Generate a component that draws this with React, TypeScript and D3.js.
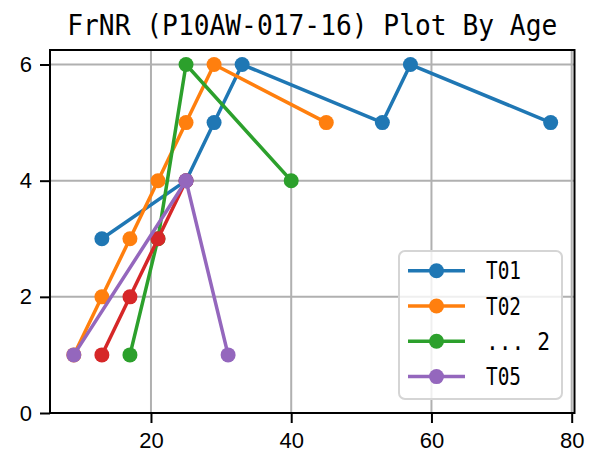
import { useRef, useEffect } from 'react';
import * as d3 from 'd3';

interface Pt {
  age: number;
  v: number;
}

// ages and values per series
const t01Ages = [13, 25, 29, 33, 53, 57, 77];
const t01Vals = [3, 4, 5, 6, 5, 6, 5];
const t02Ages = [9, 13, 17, 21, 25, 29, 45];
const t02Vals = [1, 2, 3, 4, 5, 6, 5];
const t03Ages = [17, 21, 25, 40];
const t03Vals = [1, 3, 6, 4];
const t04Ages = [13, 17, 21, 25];
const t04Vals = [1, 2, 3, 4];
const t05Ages = [9, 25, 31];
const t05Vals = [1, 4, 1];

const seriesNames = ['T01', 'T02', 'T03', 'T04', 'T05'];
const seriesColors = ['#1f77b4', '#ff7f0e', '#2ca02c', '#d62728', '#9467bd'];
const legendLabels = ['T01', 'T02', '... 2', 'T05'];
const legendColors = ['#1f77b4', '#ff7f0e', '#2ca02c', '#9467bd'];

const xTicks = [20, 40, 60, 80];
const yTicks = [0, 2, 4, 6];
const title = 'FrNR (P10AW-017-16) Plot By Age';

const zip = (a: number[], b: number[]): Pt[] => a.map((age, i) => ({ age, v: b[i] }));

const allSeries = [
  zip(t01Ages, t01Vals),
  zip(t02Ages, t02Vals),
  zip(t03Ages, t03Vals),
  zip(t04Ages, t04Vals),
  zip(t05Ages, t05Vals)
];

const W = 589;
const H = 457;
const left = 50;
const right = 574.5;
const top = 50;
const bottom = 413;

const App = () => {
  const svgRef = useRef<SVGSVGElement>(null);

  useEffect(() => {
    document.body.style.margin = '0';
    if (!svgRef.current) return;
    const svg = d3.select(svgRef.current);
    svg.selectAll('*').remove();

    const x = d3.scaleLinear().domain([5.6, 80.4]).range([left, right]);
    const y = d3.scaleLinear().domain([0, 6.25]).range([bottom, top]);

    svg.append('rect').attr('width', W).attr('height', H).attr('fill', '#fff');

    // grid
    const grid = svg.append('g').attr('stroke', '#b0b0b0').attr('stroke-width', 2);
    xTicks.forEach(t => {
      grid.append('line').attr('x1', x(t)).attr('x2', x(t)).attr('y1', top).attr('y2', bottom);
    });
    yTicks.forEach(t => {
      grid.append('line').attr('x1', left).attr('x2', right).attr('y1', y(t)).attr('y2', y(t));
    });

    // series
    const line = d3.line<Pt>().x(d => x(d.age)).y(d => y(d.v));
    allSeries.forEach((s, i) => {
      const g = svg.append('g').attr('class', seriesNames[i]);
      g.append('path')
        .datum(s)
        .attr('fill', 'none')
        .attr('stroke', seriesColors[i])
        .attr('stroke-width', 3.5)
        .attr('stroke-linejoin', 'round')
        .attr('d', line);
      g.selectAll('circle')
        .data(s)
        .enter()
        .append('circle')
        .attr('cx', d => x(d.age))
        .attr('cy', d => y(d.v))
        .attr('r', 7.5)
        .attr('fill', seriesColors[i]);
    });

    // spines
    svg.append('rect')
      .attr('x', left).attr('y', top)
      .attr('width', right - left).attr('height', bottom - top)
      .attr('fill', 'none').attr('stroke', '#000').attr('stroke-width', 2);

    // axes
    const tickFont = '"Liberation Sans", Arial, sans-serif';
    const xAxis = svg.append('g')
      .attr('transform', `translate(0,${bottom})`)
      .call(d3.axisBottom(x).tickValues(xTicks).tickSize(10).tickPadding(9).tickFormat(d3.format('d')));
    const yAxis = svg.append('g')
      .attr('transform', `translate(${left},0)`)
      .call(d3.axisLeft(y).tickValues(yTicks).tickSize(10).tickPadding(8).tickFormat(d3.format('d')));
    [xAxis, yAxis].forEach(a => {
      a.select('.domain').remove();
      a.selectAll('line').attr('stroke', '#000').attr('stroke-width', 2);
      a.selectAll('text').attr('fill', '#000').style('font-family', tickFont).style('font-size', '22px');
    });
    xAxis.selectAll('text').attr('dy', null).attr('y', 35);

    // title
    svg.append('text')
      .attr('x', (left + right) / 2)
      .attr('y', 35)
      .attr('text-anchor', 'middle')
      .attr('textLength', 490)
      .attr('lengthAdjust', 'spacingAndGlyphs')
      .style('font-family', '"DejaVu Sans Mono", monospace')
      .style('font-size', '28px')
      .attr('fill', '#000')
      .text(title);

    // legend
    const lg = svg.append('g');
    lg.append('rect')
      .attr('x', 399).attr('y', 251)
      .attr('width', 163).attr('height', 148)
      .attr('rx', 6)
      .attr('fill', '#fff').attr('fill-opacity', 0.8)
      .attr('stroke', '#d5d5d5').attr('stroke-width', 2);
    legendLabels.forEach((lab, i) => {
      const cy = 270.7 + i * 35.3;
      lg.append('line')
        .attr('x1', 408).attr('x2', 465).attr('y1', cy).attr('y2', cy)
        .attr('stroke', legendColors[i]).attr('stroke-width', 3.5);
      lg.append('circle').attr('cx', 436.5).attr('cy', cy).attr('r', 7.5).attr('fill', legendColors[i]);
      lg.append('text')
        .attr('x', 486)
        .attr('y', cy + 8.6)
        .attr('xml:space', 'preserve')
        .attr('textLength', lab.length > 3 ? 64 : 35)
        .attr('lengthAdjust', 'spacingAndGlyphs')
        .style('font-family', '"DejaVu Sans Mono", monospace')
        .style('font-size', '24px')
        .style('white-space', 'pre')
        .attr('fill', '#000')
        .text(lab);
    });
  }, []);

  return <svg ref={svgRef} width={W} height={H} style={{ display: 'block' }} />;
};

export default App;
